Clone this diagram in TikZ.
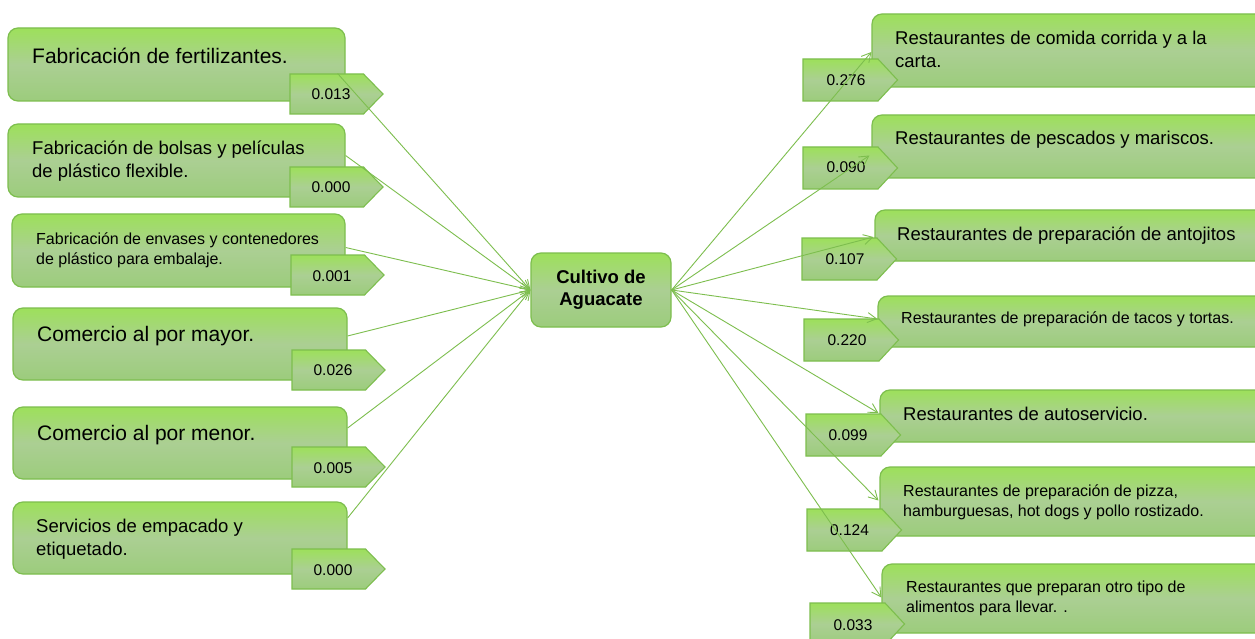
\documentclass[tikz,border=0pt]{standalone}
\usepackage{fontspec}
\setmainfont{Liberation Sans}
\usetikzlibrary{arrows.meta,calc}
\definecolor{gtop}{HTML}{9DE05B}
\definecolor{gmid}{HTML}{ABCF93}
\definecolor{gbot}{HTML}{9CCC7C}
\definecolor{gline}{HTML}{7DBE4E}
\begin{document}
\begin{tikzpicture}[x=1pt,y=-1pt,
  gbox/.style={draw=gline, line width=1.2pt, rounded corners=10pt,
    top color=gtop, bottom color=gbot, middle color=gmid, inner sep=0pt},
  tagshape/.style={draw=gline, line width=1.1pt,
    top color=gtop, bottom color=gbot, middle color=gmid},
  txt/.style={anchor=base west, inner sep=0pt, align=left, text=black},
  fA/.style={font={\fontsize{21}{25}\selectfont}},
  fB/.style={font={\fontsize{18.5}{22.8}\selectfont}},
  fC/.style={font={\fontsize{16}{19.8}\selectfont}},
  num/.style={inner sep=0pt, text=black, font={\fontsize{15.5}{18}\selectfont}},
  conn/.style={draw=gline, line width=0.9pt, -{Straight Barb[length=9pt,width=10pt,line width=0.9pt]}}
]
\useasboundingbox (0,0) rectangle (1255,639);
\clip (0,0) rectangle (1255,639);
\fill[white] (0,0) rectangle (1255,639);

% left boxes
\node[gbox, minimum width=337pt, minimum height=73pt] (b1) at (176.5,64.5) {};
\node[gbox, minimum width=337pt, minimum height=73pt] (b2) at (176.5,160.5) {};
\node[gbox, minimum width=333pt, minimum height=73pt] (b3) at (178.5,250.5) {};
\node[gbox, minimum width=334pt, minimum height=72pt] (b4) at (180,344) {};
\node[gbox, minimum width=334pt, minimum height=72pt] (b5) at (180,443) {};
\node[gbox, minimum width=334pt, minimum height=72pt] (b6) at (180,538) {};

% left texts (anchor = baseline of the last line)
\node[txt, fA] (b1t) at (32,63.3) {Fabricación de fertilizantes.};
\node[txt, fB] (b2t) at (32,177.6) {Fabricación de bolsas y películas\\de plástico flexible.};
\node[txt, fC] (b3t) at (36,264) {Fabricación de envases y contenedores\\de plástico para embalaje.};
\node[txt, fA] (b4t) at (37,341.7) {Comercio al por mayor.};
\node[txt, fA] (b5t) at (37,440) {Comercio al por menor.};
\node[txt, fB] (b6t) at (36,555.5) {Servicios de empacado y\\etiquetado.};

% left tags
\foreach \x/\y in {290/74, 290/167, 291/255, 292/350, 292/447, 292/549}{
  \path[tagshape] (\x,\y) -- ++(73.5,0) -- ++(19.5,20) -- ++(-19.5,20) -- ++(-73.5,0) -- cycle;
}
\node[num] (n1) at (331,94) {0.013};
\node[num] (n2) at (331,187) {0.000};
\node[num] (n3) at (332,276) {0.001};
\node[num] (n4) at (333,370) {0.026};
\node[num] (n5) at (333,468) {0.005};
\node[num] (n6) at (333,570) {0.000};

% centre
\node[gbox, minimum width=140pt, minimum height=74pt, align=center,
  font={\bfseries\fontsize{18.5}{22.5}\selectfont}] (c) at (601,290) {Cultivo de\\Aguacate};

% right boxes
\node[gbox, minimum width=403pt, minimum height=73pt] (r1) at (1073.5,50.5) {};
\node[gbox, minimum width=403pt, minimum height=63pt] (r2) at (1073.5,146.5) {};
\node[gbox, minimum width=400pt, minimum height=51pt] (r3) at (1075,235.5) {};
\node[gbox, minimum width=397pt, minimum height=51pt] (r4) at (1076.5,321.5) {};
\node[gbox, minimum width=395pt, minimum height=52pt] (r5) at (1077.5,416) {};
\node[gbox, minimum width=395pt, minimum height=69pt] (r6) at (1077.5,501.5) {};
\node[gbox, minimum width=393pt, minimum height=69pt] (r7) at (1078.5,598.5) {};

% right texts (anchor = baseline of the last line)
\node[txt, fB] (r1t) at (895,67.8) {Restaurantes de comida corrida y a la\\carta.};
\node[txt, fB] (r2t) at (895,145) {Restaurantes de pescados y mariscos.};
\node[txt, fB] (r3t) at (897,240.7) {Restaurantes de preparación de antojitos};
\node[txt, fC] (r4t) at (901,323) {Restaurantes de preparación de tacos y tortas.};
\node[txt, fB] (r5t) at (903,420.7) {Restaurantes de autoservicio.};
\node[txt, fC] (r6t) at (903,516.3) {Restaurantes de preparación de pizza,\\hamburguesas, hot dogs y pollo rostizado.};
\node[txt, fC] (r7t) at (906,612.5) {Restaurantes que preparan otro tipo de\\alimentos para llevar. .};

% right tags
\foreach \x/\y in {803/59, 803/147, 802/238, 804/319, 806/414, 807/509, 810/603}{
  \path[tagshape] (\x,\y) -- ++(75,0) -- ++(19.5,21) -- ++(-19.5,21) -- ++(-75,0) -- cycle;
}
\node[num] (m1) at (846,80) {0.276};
\node[num] (m2) at (846,167) {0.090};
\node[num] (m3) at (845,259) {0.107};
\node[num] (m4) at (847,340) {0.220};
\node[num] (m5) at (848,435) {0.099};
\node[num] (m6) at (849.5,530) {0.124};
\node[num] (m7) at (853,625) {0.033};

% connectors left -> centre
\draw[conn] ($(b1.east)+(-8,9)$) -- (c.west);
\draw[conn] ($(b2.east)+(0,-5)$) -- (c.west);
\draw[conn] ($(b3.east)+(0,-3)$) -- (c.west);
\draw[conn] ($(b4.east)+(0,-8)$) -- (c.west);
\draw[conn] ($(b5.east)+(0,-15)$) -- (c.west);
\draw[conn] ($(b6.east)+(0,-20)$) -- (c.west);

% connectors centre -> right
\draw[conn] (c.east) -- ($(r1.west)+(0,1.5)$);
\draw[conn] (c.east) -- ($(r2.west)+(-2,9)$);
\draw[conn] (c.east) -- ($(r3.west)+(-1,1.5)$);
\draw[conn] (c.east) -- ($(r4.west)+(0,-2.5)$);
\draw[conn] (c.east) -- ($(r5.west)+(-1,-3)$);
\draw[conn] (c.east) -- ($(r6.west)+(-1,-1)$);
\draw[conn] (c.east) -- ($(r7.west)+(0,-1)$);
\end{tikzpicture}
\end{document}
